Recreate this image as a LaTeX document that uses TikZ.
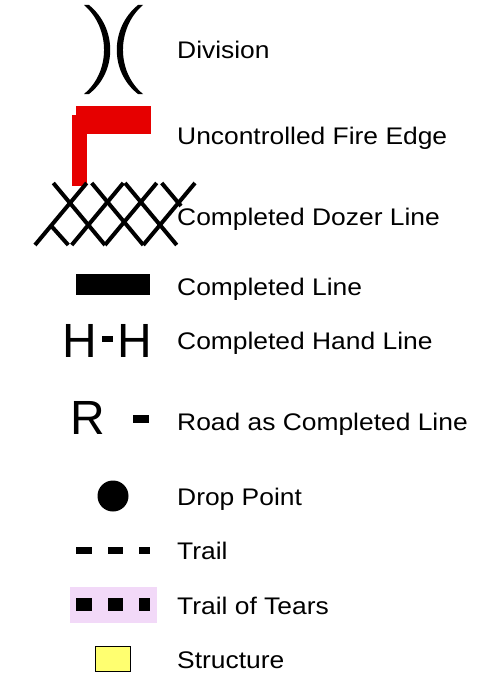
\documentclass[tikz,border=0pt]{standalone}
\usepackage{fontspec}
\setmainfont{Liberation Sans}[FakeStretch=1.1]
\newfontfamily\symfont{Liberation Sans}
\usepackage{tikz}

\definecolor{fireRed}{HTML}{E60000}
\definecolor{tearPink}{HTML}{F2D9F8}
\definecolor{structYellow}{HTML}{FFFF70}

\tikzset{
	lbl/.style={anchor=base west, inner sep=0pt, font=\fontsize{24}{24}\selectfont},
	bigsym/.style={inner sep=0pt, font=\symfont\fontsize{48}{48}\selectfont},
	dozer/.style={line width=4pt},
}

\begin{document}
\begin{tikzpicture}[x=1pt, y=-1pt]
	\useasboundingbox (0,0) rectangle (485,693);
	%\draw[help lines] (0,0) grid[step=50] (485,693);

	% Division
	\fill (89,5) .. controls (117.3,28) and (117.3,72) .. (89,94)
		-- (84,94) .. controls (110.7,72) and (110.7,28) .. (84,5) -- cycle;
	\fill (138,5) .. controls (109.7,28) and (109.7,72) .. (138,94)
		-- (143,94) .. controls (116.3,72) and (116.3,28) .. (143,5) -- cycle;
	\node[lbl] (division) at (177,59) {Division};

	% Uncontrolled Fire Edge
	\fill[fireRed] (76,106) rectangle (151,134);
	\fill[fireRed] (72,115) rectangle (87,186);
	\node[lbl] (fireedge) at (177,144.5) {Uncontrolled Fire Edge};

	% Completed Dozer Line
	\foreach \a/\b in {53.3/105, 91.7/143.3, 125/176.7}
		\draw[dozer] (\a,183) -- (\b,245);
	\foreach \a/\b in {86.7/35, 123.3/71.7, 156.7/105, 195/143.3}
		\draw[dozer] (\a,183) -- (\b,245);
	\draw[dozer] (161.7,183) -- (181,206);
	\draw[dozer] (51.3,226) -- (68.3,245);
	\node[lbl] (dozerline) at (177,225) {Completed Dozer Line};

	% Completed Line
	\fill (76,274) rectangle (150,295);
	\node[lbl] (compline) at (177,295.5) {Completed Line};

	% Completed Hand Line
	\node[bigsym] (hleft) at (80,340.7) {H};
	\node[bigsym] (hright) at (135.2,340.7) {H};
	\fill (101.7,336) rectangle (113.3,341.7);
	\node[lbl] (handline) at (177,349.5) {Completed Hand Line};

	% Road as Completed Line
	\node[bigsym] (road) at (87.5,417.5) {R};
	\fill (133.3,415) rectangle (149.3,423.3);
	\node[lbl] (roadline) at (177,430) {Road as Completed Line};

	% Drop Point
	\fill (113,496) circle [radius=15.5];
	\node[lbl] (droppoint) at (177,505.5) {Drop Point};

	% Trail
	\foreach \a/\b in {76/91.7, 107.7/123.3, 139.3/150}
		\fill (\a,547) rectangle (\b,554.3);
	\node[lbl] (trail) at (177,559.5) {Trail};

	% Trail of Tears
	\fill[tearPink] (70,586.7) rectangle (156.7,622.7);
	\foreach \a/\b in {76/91.7, 107.7/123.3, 139.3/150}
		\fill (\a,597.7) rectangle (\b,611);
	\node[lbl] (tears) at (177,614.5) {Trail of Tears};

	% Structure
	\draw[fill=structYellow, line width=1pt] (95.7,646) rectangle (130.7,671);
	\node[lbl] (structure) at (177,668.5) {Structure};
\end{tikzpicture}
\end{document}
